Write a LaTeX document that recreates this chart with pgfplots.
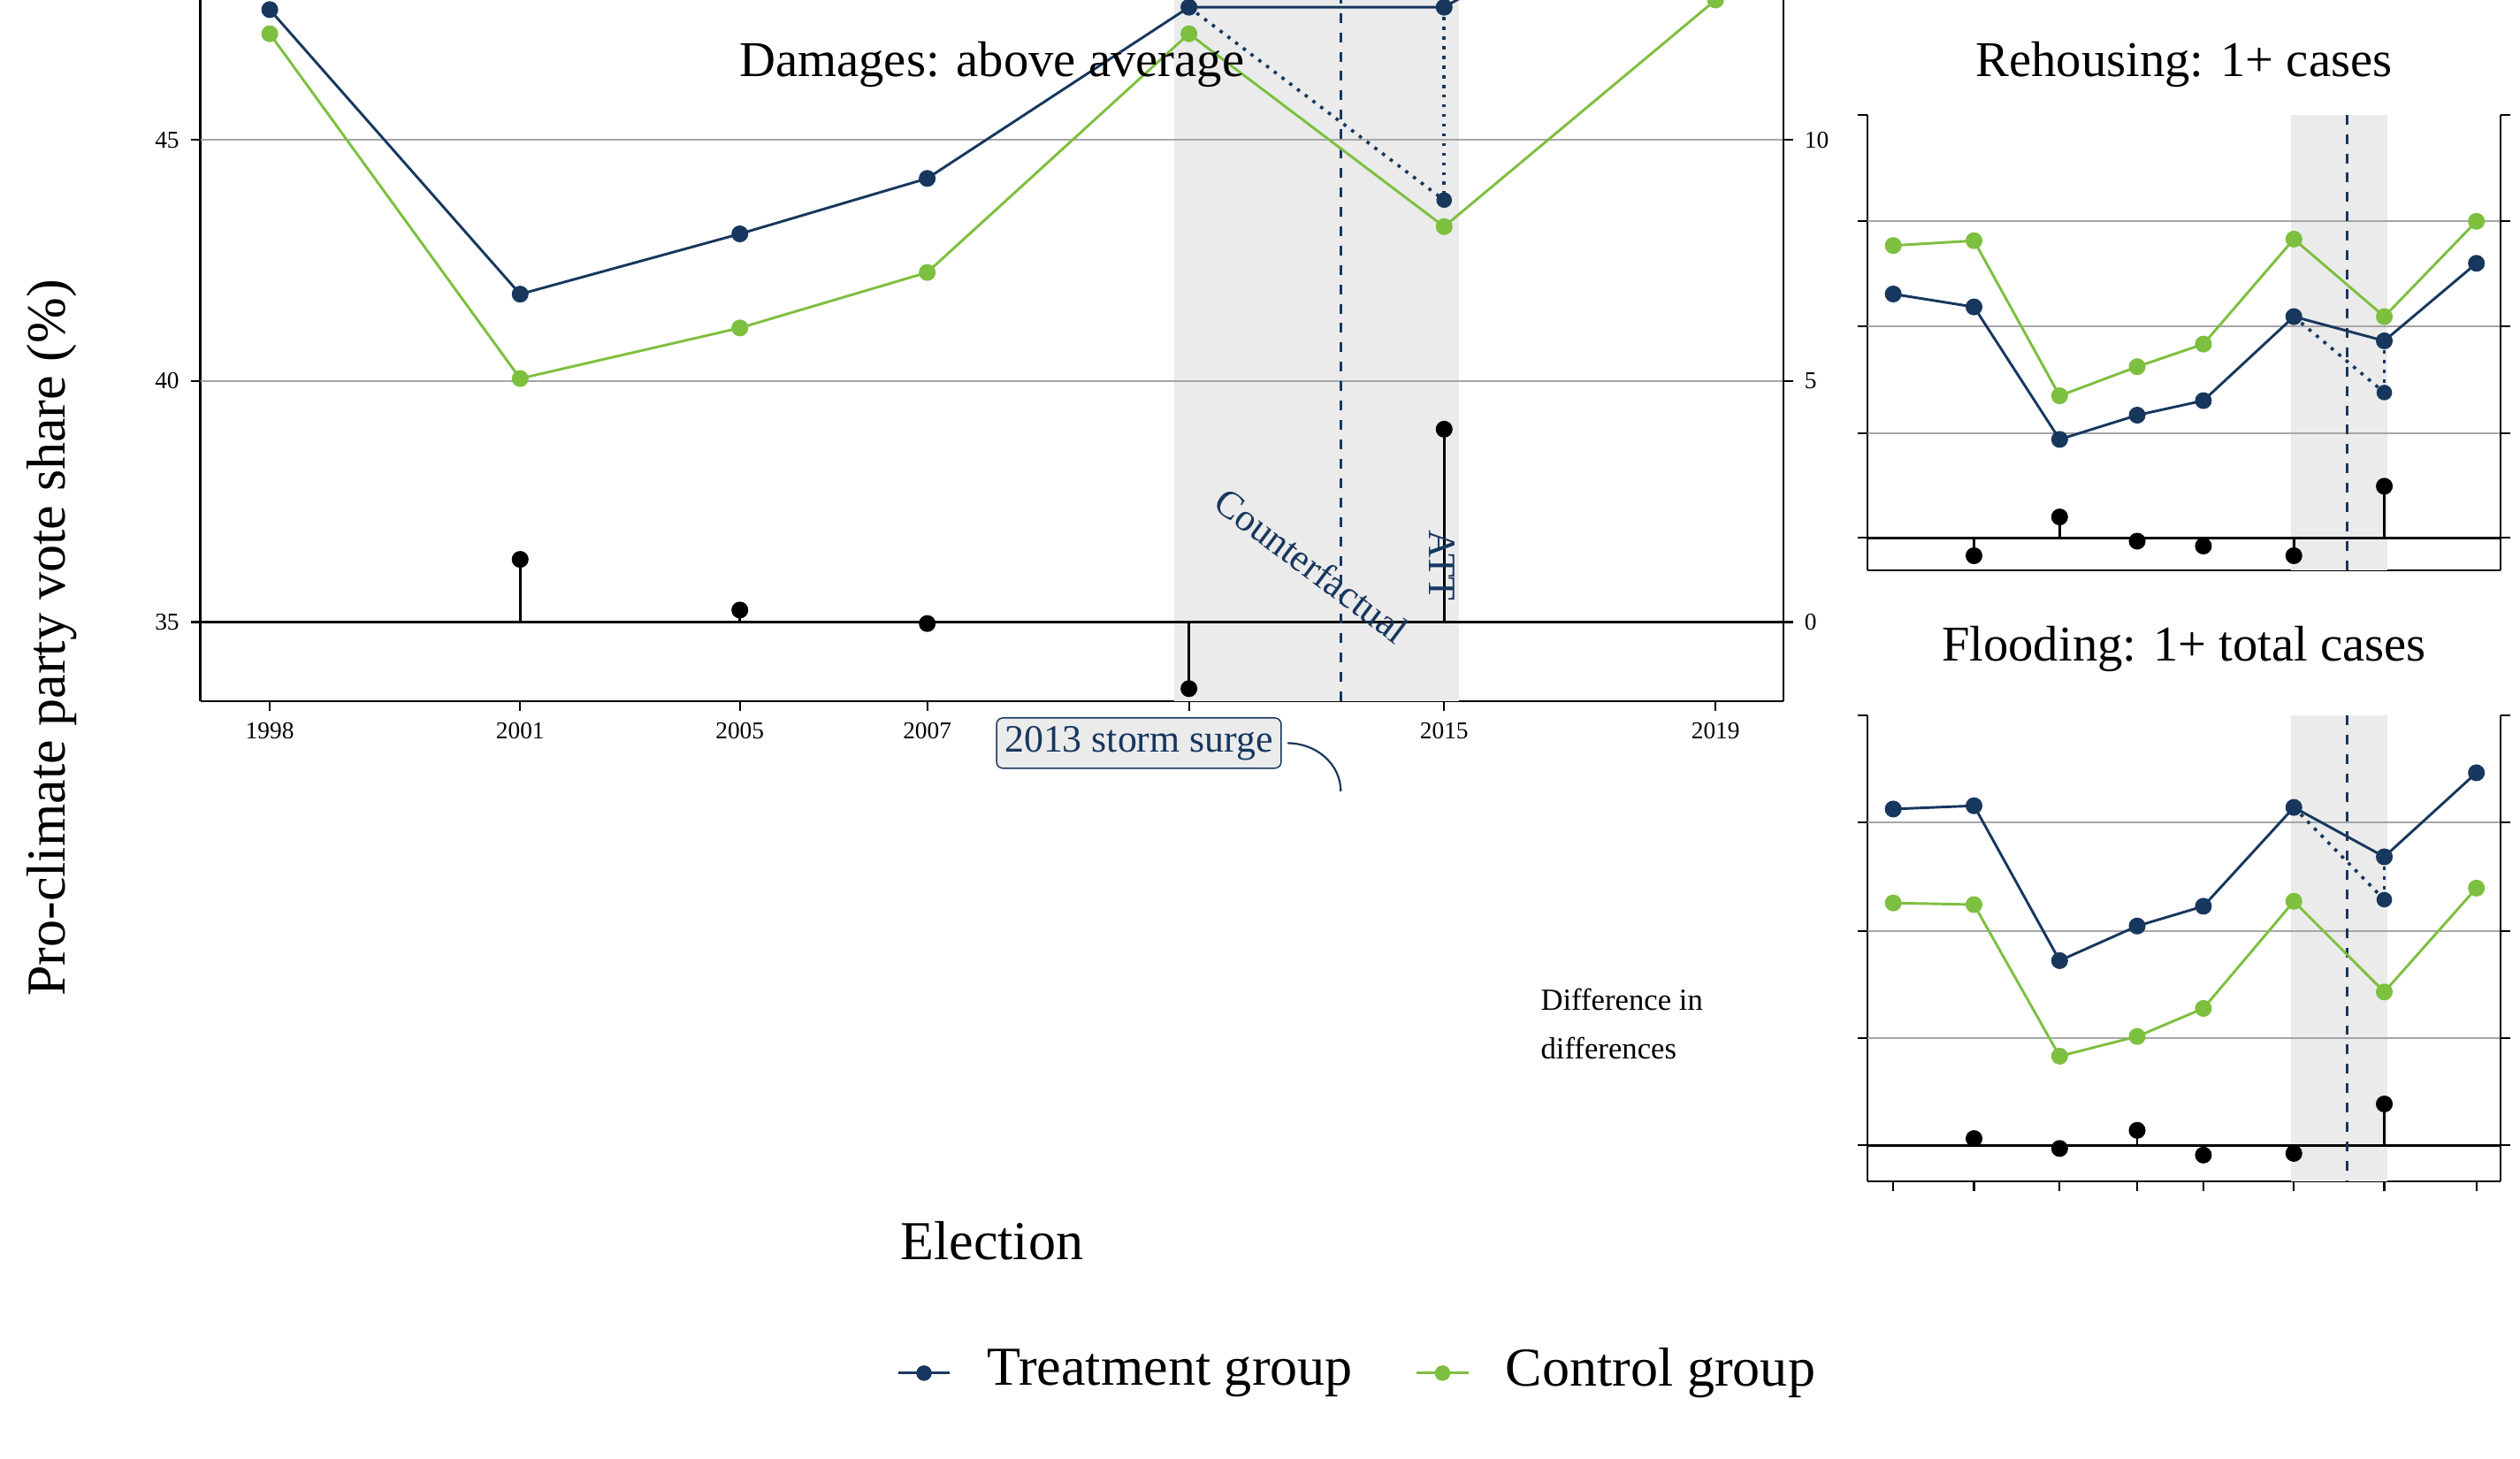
\documentclass[border=0pt]{standalone}
\usepackage{pgfplots}
\pgfplotsset{compat=1.18}
\usepackage{fontspec}
\setmainfont{Liberation Serif}
\definecolor{navy}{HTML}{17375E}
\definecolor{grn}{HTML}{7DBF3F}
\definecolor{shade}{HTML}{EBEBEB}
\pgfplotsset{
 base/.style={scale only axis, axis line style={black,line width=0.7pt}, tick style={black,line width=0.6pt}, tick align=outside, major tick length=3pt,
   ticklabel style={font=\fontsize{7.5}{9}\selectfont}, /pgf/number format/assume math mode=true, clip mode=individual},
 tr/.style={navy, line width=0.8pt, mark=*, mark size=2.2pt},
 co/.style={grn, line width=0.8pt, mark=*, mark size=2.2pt},
 stem/.style={black, line width=0.8pt, mark=*, mark size=2.2pt, mark indices={2}},
 gl/.style={gray!70, line width=0.5pt},
 zl/.style={black, line width=0.8pt},
}
\begin{document}
\begin{tikzpicture}[x=0.5pt,y=-0.5pt]
\useasboundingbox (0,0) rectangle (1560,903);
% ---------- main panel ----------
\begin{axis}[base, at={(124,71)}, anchor=north west, width=490pt, height=323pt,
  xmin=124, xmax=1104, ymin=33.36, ymax=55, axis x line*=bottom, axis y line*=left,
  xtick={167,322,458,574,736,894,1062}, xticklabels={1998,2001,2005,2007,2011,2015,2019},
  ytick={35,40,45,50,55}]
\addplot[fill=shade, draw=none] coordinates {(727,33.36)(903,33.36)(903,55)(727,55)} -- cycle;
\addplot[gl] coordinates {(124,40)(1104,40)};
\addplot[gl] coordinates {(124,45)(1104,45)};
\addplot[gl] coordinates {(124,50)(1104,50)};
\addplot[gl] coordinates {(124,55)(1104,55)};
\addplot[zl] coordinates {(124,35)(1104,35)};
\addplot[navy, dashed, line width=0.9pt] coordinates {(830,33.36)(830,55)};
\addplot[navy, dotted, line width=1pt] coordinates {(736,47.75)(894,43.75)};
\addplot[navy, dotted, line width=1pt] coordinates {(894,47.75)(894,43.75)};
\addplot[stem] coordinates {(322,35)(322,36.3)};
\addplot[stem] coordinates {(458,35)(458,35.25)};
\addplot[stem] coordinates {(574,35)(574,34.97)};
\addplot[stem] coordinates {(736,35)(736,33.62)};
\addplot[stem] coordinates {(894,35)(894,39.0)};
\addplot[co] coordinates {(167,47.2)(322,40.05)(458,41.1)(574,42.25)(736,47.2)(894,43.2)(1062,47.9)};
\addplot[tr] coordinates {(167,47.7)(322,41.8)(458,43.05)(574,44.2)(736,47.75)(894,47.75)(1062,50.95)};
\addplot[navy, only marks, mark=*, mark size=2.2pt] coordinates {(894,43.75)};
\end{axis}
\begin{axis}[base, at={(124,71)}, anchor=north west, width=490pt, height=323pt,
  xmin=124, xmax=1104, ymin=-1.64, ymax=20, axis x line=none, axis y line*=right, ytick={0,5,10}]
\addplot[draw=none] coordinates {(500,0)};
\end{axis}
\draw[navy, line width=0.6pt] (797,460) to[out=0,in=90] (830,490);
\node[draw=navy, fill=shade, rounded corners=2pt, text=navy, font=\fontsize{12}{14}\selectfont, inner sep=2.5pt] at (705,460) {2013 storm surge};
\node[text=navy, rotate=-36.8, font=\fontsize{12}{14}\selectfont] at (812,350) {Counterfactual};
\node[text=navy, rotate=-90, font=\fontsize{12}{14}\selectfont] at (893,350) {ATT};
\node[align=left, font=\fontsize{9.5}{15}\selectfont] at (1004,634) {Difference in\\differences};
\node[font=\fontsize{15.5}{18}\selectfont] at (614,40) {Damages: above average};
\node[font=\fontsize{17}{20}\selectfont] at (614,768) {Election};
\node[rotate=90, font=\fontsize{17}{20}\selectfont] at (32,395) {Pro-climate party vote share (\%)};
% ---------- Rehousing ----------
\begin{axis}[base, at={(1156,71)}, anchor=north west, width=196pt, height=141pt, y dir=reverse,
  xmin=1156, xmax=1548, ymin=71, ymax=353, axis x line*=bottom, axis y line*=left,
  xtick=\empty, ytick={71,137,202,268,333}, yticklabels={}]
\addplot[fill=shade, draw=none] coordinates {(1418,71)(1478,71)(1478,353)(1418,353)} -- cycle;
\addplot[gl] coordinates {(1156,137)(1548,137)};
\addplot[gl] coordinates {(1156,202)(1548,202)};
\addplot[gl] coordinates {(1156,268)(1548,268)};
\addplot[zl] coordinates {(1156,333)(1548,333)};
\addplot[navy, dashed, line width=0.9pt] coordinates {(1453,71)(1453,353)};
\addplot[navy, dotted, line width=1pt] coordinates {(1420,196)(1476,243)};
\addplot[navy, dotted, line width=1pt] coordinates {(1476,211)(1476,243)};
\addplot[stem] coordinates {(1222,333)(1222,344)};
\addplot[stem] coordinates {(1275,333)(1275,320)};
\addplot[stem] coordinates {(1323,333)(1323,335)};
\addplot[stem] coordinates {(1364,333)(1364,338)};
\addplot[stem] coordinates {(1420,333)(1420,344)};
\addplot[stem] coordinates {(1476,333)(1476,301)};
\addplot[co] coordinates {(1172,152)(1222,149)(1275,245)(1323,227)(1364,213)(1420,148)(1476,196)(1533,137)};
\addplot[tr] coordinates {(1172,182)(1222,190)(1275,272)(1323,257)(1364,248)(1420,196)(1476,211)(1533,163)};
\addplot[navy, only marks, mark=*, mark size=2.2pt] coordinates {(1476,243)};
\end{axis}
\begin{axis}[base, at={(1156,71)}, anchor=north west, width=196pt, height=141pt, y dir=reverse,
  xmin=1156, xmax=1548, ymin=71, ymax=353, axis x line=none, axis y line*=right,
  ytick={71,137,202,268,333}, yticklabels={}]
\addplot[draw=none] coordinates {(1300,200)};
\end{axis}
\node[font=\fontsize{15.5}{18}\selectfont] at (1352,40) {Rehousing: 1+ cases};
% ---------- Flooding ----------
\begin{axis}[base, at={(1156,434)}, anchor=north west, width=196pt, height=141.5pt, y dir=reverse,
  xmin=1156, xmax=1548, ymin=434, ymax=717, axis x line*=bottom, axis y line*=left,
  xtick={1172,1222,1275,1323,1364,1420,1476,1533}, xticklabels={}, ytick={434,499,565,630,695}, yticklabels={}]
\addplot[fill=shade, draw=none] coordinates {(1418,434)(1478,434)(1478,717)(1418,717)} -- cycle;
\addplot[gl] coordinates {(1156,499)(1548,499)};
\addplot[gl] coordinates {(1156,565)(1548,565)};
\addplot[gl] coordinates {(1156,630)(1548,630)};
\addplot[zl] coordinates {(1156,695)(1548,695)};
\addplot[navy, dashed, line width=0.9pt] coordinates {(1453,434)(1453,717)};
\addplot[navy, dotted, line width=1pt] coordinates {(1420,490)(1476,546)};
\addplot[navy, dotted, line width=1pt] coordinates {(1476,520)(1476,546)};
\addplot[stem] coordinates {(1222,695)(1222,691)};
\addplot[stem] coordinates {(1275,695)(1275,697)};
\addplot[stem] coordinates {(1323,695)(1323,686)};
\addplot[stem] coordinates {(1364,695)(1364,701)};
\addplot[stem] coordinates {(1420,695)(1420,700)};
\addplot[stem] coordinates {(1476,695)(1476,670)};
\addplot[co] coordinates {(1172,548)(1222,549)(1275,641)(1323,629)(1364,612)(1420,547)(1476,602)(1533,539)};
\addplot[tr] coordinates {(1172,491)(1222,489)(1275,583)(1323,562)(1364,550)(1420,490)(1476,520)(1533,469)};
\addplot[navy, only marks, mark=*, mark size=2.2pt] coordinates {(1476,546)};
\end{axis}
\begin{axis}[base, at={(1156,434)}, anchor=north west, width=196pt, height=141.5pt, y dir=reverse,
  xmin=1156, xmax=1548, ymin=434, ymax=717, axis x line=none, axis y line*=right,
  ytick={434,499,565,630,695}, yticklabels={}]
\addplot[draw=none] coordinates {(1300,500)};
\end{axis}
\node[font=\fontsize{15.5}{18}\selectfont] at (1352,402) {Flooding: 1+ total cases};
% ---------- legend ----------
\draw[navy, line width=0.8pt] (556,850) -- (588,850);
\fill[navy] (572,850) circle (2.4pt);
\node[anchor=west, font=\fontsize{17}{20}\selectfont] at (604,850) {Treatment group};
\draw[grn, line width=0.8pt] (877,850) -- (909,850);
\fill[grn] (893,850) circle (2.4pt);
\node[anchor=west, font=\fontsize{17}{20}\selectfont] at (925,850) {Control group};
\end{tikzpicture}
\end{document}
